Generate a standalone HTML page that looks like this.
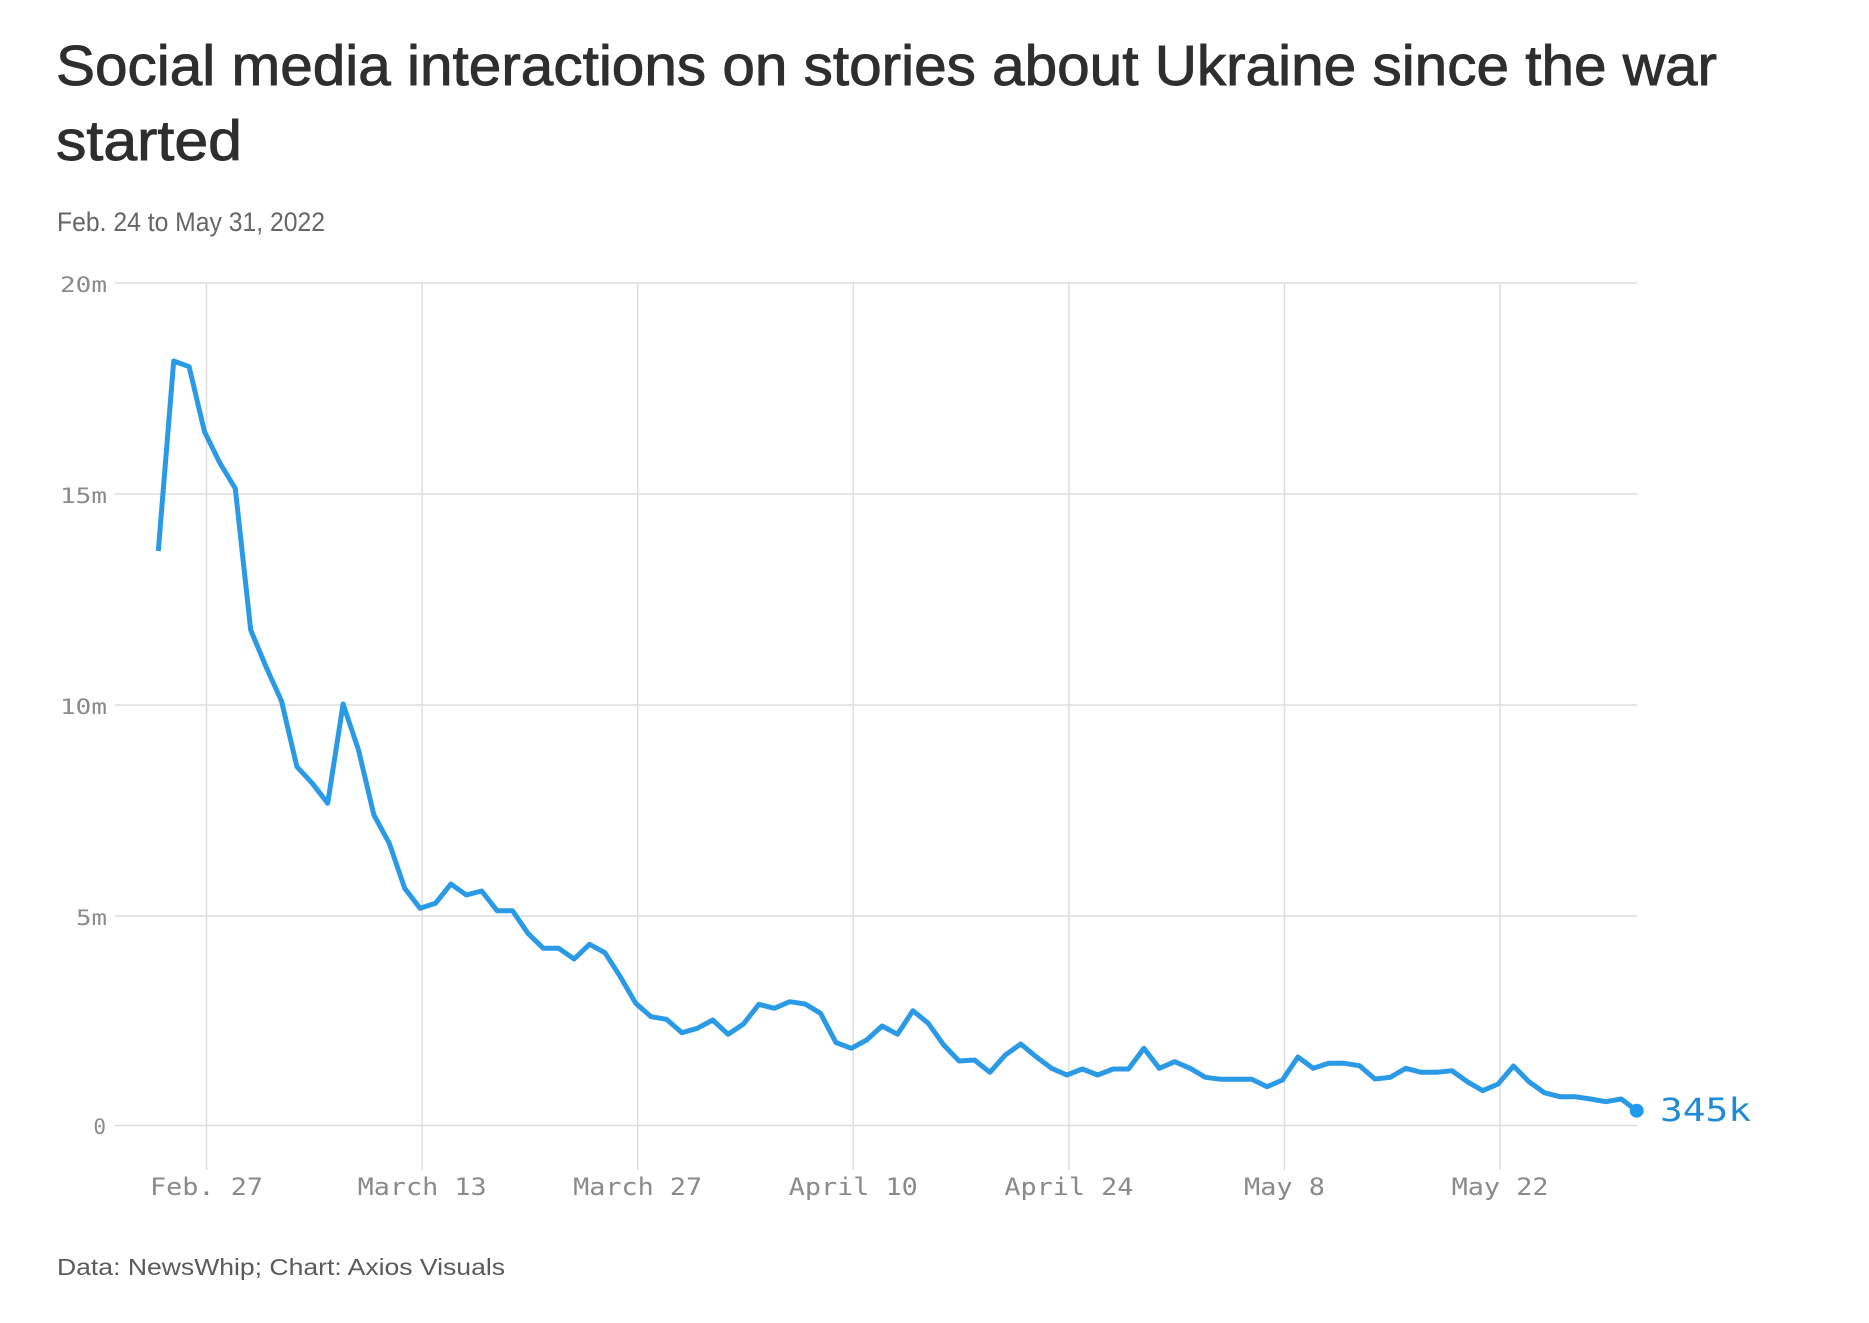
<!DOCTYPE html>
<html>
<head>
<meta charset="utf-8">
<style>
  html, body { margin: 0; padding: 0; background: #ffffff; }
  body { width: 1869px; height: 1323px; overflow: hidden; }
  svg { display: block; }
  .title { font-family: "Liberation Sans", "DejaVu Sans", sans-serif; font-size: 57px; fill: #2e2e2e; stroke: #2e2e2e; stroke-width: 0.9px; }
  .sub { font-family: "Liberation Sans", "DejaVu Sans", sans-serif; font-size: 27px; fill: #666666; }
  .foot { font-family: "Liberation Sans", "DejaVu Sans", sans-serif; font-size: 23px; fill: #5a5a5a; }
  .yl { font-family: "DejaVu Sans Mono", "Liberation Mono", monospace; font-size: 21px; fill: #8a8a8a; }
  .xl { font-family: "DejaVu Sans Mono", "Liberation Mono", monospace; font-size: 24px; fill: #8a8a8a; }
  .val { font-family: "DejaVu Sans Mono", "Liberation Mono", monospace; font-size: 32px; fill: #1f8ad6; }
</style>
</head>
<body>
<svg width="1869" height="1323" viewBox="0 0 1869 1323" xmlns="http://www.w3.org/2000/svg">
  <rect x="0" y="0" width="1869" height="1323" fill="#ffffff"/>

  <!-- Title -->
  <text class="title" x="56" y="85" textLength="1661" lengthAdjust="spacingAndGlyphs">Social media interactions on stories about Ukraine since the war</text>
  <text class="title" x="56" y="160" textLength="186" lengthAdjust="spacingAndGlyphs">started</text>

  <!-- Subtitle -->
  <text class="sub" x="57" y="231" textLength="268" lengthAdjust="spacingAndGlyphs">Feb. 24 to May 31, 2022</text>

  <!-- Horizontal gridlines -->
  <g stroke="#dddddd" stroke-width="1.5">
    <line x1="115" y1="283" x2="1637" y2="283"/>
    <line x1="115" y1="494" x2="1637" y2="494"/>
    <line x1="115" y1="705" x2="1637" y2="705"/>
    <line x1="115" y1="916" x2="1637" y2="916"/>
    <line x1="115" y1="1125.5" x2="1637" y2="1125.5"/>
  </g>

  <!-- Vertical gridlines -->
  <g stroke="#dddddd" stroke-width="1.5">
    <line x1="206.5" y1="283" x2="206.5" y2="1170"/>
    <line x1="422.1" y1="283" x2="422.1" y2="1170"/>
    <line x1="637.7" y1="283" x2="637.7" y2="1170"/>
    <line x1="853.3" y1="283" x2="853.3" y2="1170"/>
    <line x1="1068.9" y1="283" x2="1068.9" y2="1170"/>
    <line x1="1284.5" y1="283" x2="1284.5" y2="1170"/>
    <line x1="1500.1" y1="283" x2="1500.1" y2="1170"/>
  </g>

  <!-- Y labels -->
  <g class="yl" text-anchor="end">
    <text x="107" y="292" textLength="47" lengthAdjust="spacingAndGlyphs">20m</text>
    <text x="107" y="503" textLength="47" lengthAdjust="spacingAndGlyphs">15m</text>
    <text x="107" y="714" textLength="47" lengthAdjust="spacingAndGlyphs">10m</text>
    <text x="107" y="925" textLength="31" lengthAdjust="spacingAndGlyphs">5m</text>
    <text x="106" y="1134">0</text>
  </g>

  <!-- X labels -->
  <g class="xl" text-anchor="middle">
    <text x="206.5" y="1195" textLength="113" lengthAdjust="spacingAndGlyphs">Feb. 27</text>
    <text x="422.1" y="1195" textLength="129" lengthAdjust="spacingAndGlyphs">March 13</text>
    <text x="637.7" y="1195" textLength="129" lengthAdjust="spacingAndGlyphs">March 27</text>
    <text x="853.3" y="1195" textLength="129" lengthAdjust="spacingAndGlyphs">April 10</text>
    <text x="1068.9" y="1195" textLength="129" lengthAdjust="spacingAndGlyphs">April 24</text>
    <text x="1284.5" y="1195" textLength="81" lengthAdjust="spacingAndGlyphs">May 8</text>
    <text x="1500.1" y="1195" textLength="97" lengthAdjust="spacingAndGlyphs">May 22</text>
  </g>

  <!-- Data line -->
  <polyline fill="none" stroke="#2a9ae6" stroke-width="5" stroke-linejoin="round" stroke-linecap="butt"
    points="
158.3,551 173.7,361 189.1,366.7 204.5,431.7 219.9,463 235.3,488.5 250.7,630 266.1,667 281.5,701 296.9,766.7
312.3,783.3 327.7,803.3 343.1,704 358.5,750 373.9,815 389.3,843.3 404.7,888.3 420.1,908.3 435.5,903.3 450.9,884
466.3,895 481.7,891 497.1,910.7 512.5,910.7 527.9,933.3 543.3,948.3 558.7,948.3 574.1,959 589.5,944.3 604.9,952.7
620.3,976.7 635.7,1003.3 651.1,1016.7 666.5,1019.3 681.9,1032.7 697.3,1028.3 712.7,1020 728.1,1034.3 743.5,1024 758.9,1004.3
774.3,1008.3 789.7,1001.7 805.1,1004 820.5,1013.3 835.9,1042.5 851.3,1048.3 866.7,1040 882.1,1026 897.5,1034.3 912.9,1010.7
928.3,1023.3 943.7,1045 959.1,1061 974.5,1060 989.9,1072.3 1005.3,1055 1020.7,1044 1036.1,1056.7 1051.5,1068.3 1066.9,1075
1082.3,1069 1097.7,1075 1113.1,1069 1128.5,1069 1143.9,1048.3 1159.3,1068.3 1174.7,1061.7 1190.1,1068.3 1205.5,1077.3 1220.9,1079.3
1236.3,1079.3 1251.7,1079.3 1267.1,1086.7 1282.5,1080 1297.9,1057 1313.3,1068.3 1328.7,1063.3 1344.1,1063.3 1359.5,1065.7 1374.9,1079
1390.3,1077.3 1405.7,1068.3 1421.1,1072.3 1436.5,1072.3 1451.9,1070.7 1467.3,1081.7 1482.7,1090.7 1498.1,1084 1513.5,1066 1528.9,1081.7
1544.3,1092.7 1559.7,1096.7 1575.1,1096.7 1590.5,1099 1605.9,1101.7 1621.3,1099 1636.7,1110.7"/>

  <!-- End dot and label -->
  <circle cx="1636.7" cy="1110.7" r="7" fill="#1e9bf0"/>
  <text class="val" x="1660" y="1121" textLength="91" lengthAdjust="spacingAndGlyphs">345k</text>

  <!-- Footer -->
  <text class="foot" x="57" y="1275" textLength="448" lengthAdjust="spacingAndGlyphs">Data: NewsWhip; Chart: Axios Visuals</text>
</svg>
</body>
</html>
